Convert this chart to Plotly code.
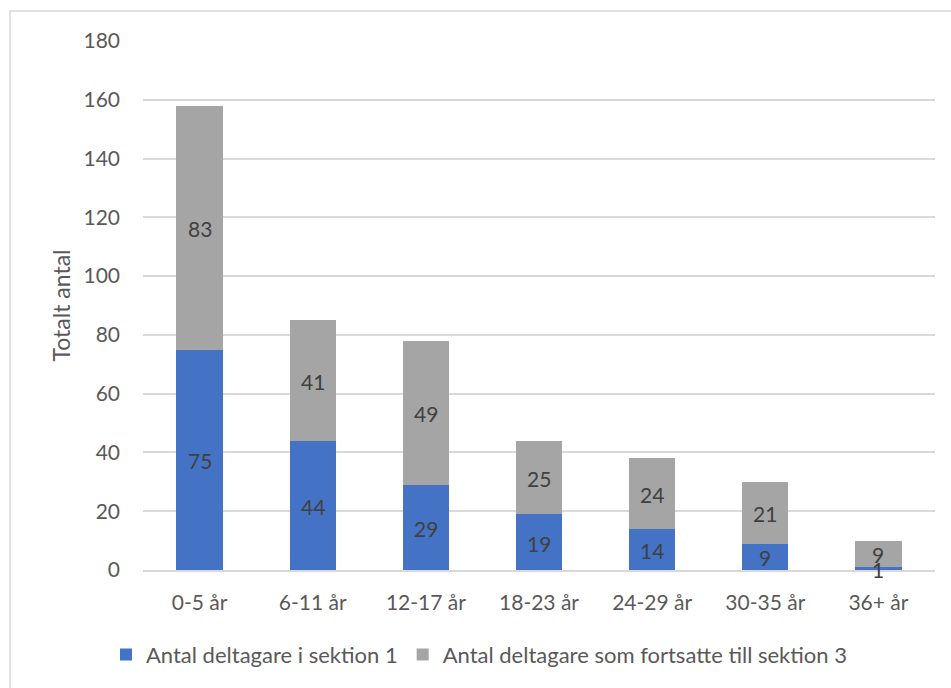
import plotly.graph_objects as go

categories = ["0-5 år", "6-11 år", "12-17 år", "18-23 år", "24-29 år", "30-35 år", "36+ år"]
sektion1 = [75, 44, 29, 19, 14, 9, 1]
sektion3 = [83, 41, 49, 25, 24, 21, 9]
name1 = "Antal deltagare i sektion 1"
name3 = "Antal deltagare som fortsatte till sektion 3"
y_ticks = [0, 20, 40, 60, 80, 100, 120, 140, 160, 180]

FONT = "Lato, 'Open Sans', sans-serif"
W, H = 951, 688
L, R, T, B = 143, 16, 41, 116
pw, ph = W - L - R, H - T - B

fig = go.Figure()
for vals, name, color in [(sektion1, name1, "#4472C4"), (sektion3, name3, "#A5A5A5")]:
    fig.add_trace(go.Bar(
        x=categories, y=vals, name=name,
        marker=dict(color=color, line=dict(width=0)),
        hoverinfo="x+y+name",
    ))

# data labels centred in each segment, drawn above all bars
mid1 = [v / 2 for v in sektion1]
mid3 = [a + b / 2 for a, b in zip(sektion1, sektion3)]
for cat, ym, val in zip(categories + categories, mid1 + mid3, sektion1 + sektion3):
    fig.add_annotation(x=cat, y=ym, text=str(val), showarrow=False,
                       xanchor="center", yanchor="middle", yshift=-1,
                       font=dict(family=FONT, size=21, color="#404040"))

# outer chart border (light gray frame)
fig.add_shape(type="rect", xref="paper", yref="paper",
              x0=(10 - L) / pw, x1=(W + 5 - L) / pw,
              y0=(H - B - (H + 5)) / ph, y1=(H - B - 11) / ph,
              line=dict(color="#D9D9D9", width=1.5), fillcolor="rgba(0,0,0,0)",
              layer="below")

fig.update_layout(
    barmode="stack",
    bargap=0.59,
    width=W, height=H,
    margin=dict(l=L, r=R, t=T, b=B, pad=0),
    paper_bgcolor="white", plot_bgcolor="white",
    font=dict(family=FONT, size=21, color="#595959"),
    showlegend=True,
    legend=dict(orientation="h", x=(479 - L) / pw, xanchor="center",
                y=(H - B - 657) / ph, yanchor="middle",
                font=dict(size=22, color="#595959"),
                traceorder="normal", itemwidth=30, tracegroupgap=0),
    xaxis=dict(showgrid=False, showline=True, linecolor="#D9D9D9", linewidth=1.5,
               ticks="", ticklabelstandoff=13, tickfont=dict(size=21, color="#595959")),
    yaxis=dict(range=[0, 180], tickvals=y_ticks, showgrid=True, gridcolor="#D9D9D9",
               gridwidth=1.5, zeroline=False, showline=False, ticks="",
               ticklabelstandoff=22, tickfont=dict(size=21, color="#595959"),
               title=dict(text="Totalt antal", font=dict(size=23, color="#595959"), standoff=6)),
)

fig.write_html("out.html")
